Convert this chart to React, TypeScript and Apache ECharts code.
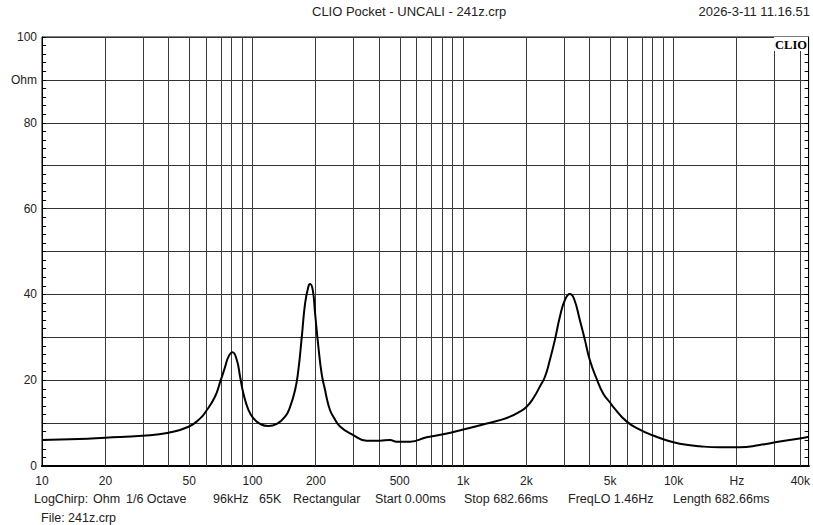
import React, { useEffect, useRef } from "react";
import * as echarts from "echarts";

// Impedance curve (frequency in Hz, impedance in Ohm)
const freqs = [10, 15, 20, 30, 40, 50, 56.4, 60, 66.4, 70.2, 74.1, 76.9, 80.3, 84.2, 87.3, 90.5, 95.6, 101, 108.7, 119, 130.4, 142.8, 150.8, 159.3, 165.1, 171.4, 177.7, 184.2, 187.7, 193.3, 198.2, 205.5, 213.3, 221.1, 225.2, 233.5, 242.1, 260.5, 301, 348.7, 403, 449.8, 484, 559.8, 671.8, 805, 1002, 1294, 1496, 1670, 1862, 2004, 2155, 2317, 2449, 2584, 2731, 2884, 3047, 3215, 3359, 3589, 3791, 4001, 4303, 4629, 4989, 5166, 5977, 6911, 7993, 9254, 10700, 13320, 16570, 20620, 25650, 31920, 39720, 43800];
const ohms = [6.06, 6.3, 6.6, 7.06, 7.77, 9.2, 11.1, 12.7, 16.2, 19.6, 23.1, 25.5, 26.5, 24.7, 20.8, 16.9, 13.1, 11.1, 9.8, 9.3, 9.8, 11.5, 13.8, 17.7, 22.4, 30.1, 37.9, 41.8, 42.4, 41, 35.6, 27.8, 21.3, 17.7, 15.8, 13, 11.5, 9.2, 7.2, 5.9, 5.9, 6.06, 5.67, 5.67, 6.7, 7.4, 8.5, 9.9, 10.7, 11.5, 12.7, 13.8, 15.8, 18.5, 20.8, 24.7, 29.4, 34.8, 38.7, 40.1, 39.1, 34, 29.4, 24.7, 20.4, 16.9, 14.8, 13.8, 10.4, 8.5, 7.1, 6.0, 5.2, 4.6, 4.35, 4.35, 4.9, 5.7, 6.4, 6.8];

const xTickFreqs = [10, 20, 50, 100, 200, 500, 1000, 2000, 5000, 10000, 20000, 40000];
const xTickLabels = ["10", "20", "50", "100", "200", "500", "1k", "2k", "5k", "10k", "Hz", "40k"];
const gridFreqs = [20, 30, 40, 50, 60, 70, 80, 90, 100, 200, 300, 400, 500, 600, 700, 800, 900, 1000, 2000, 3000, 4000, 5000, 6000, 7000, 8000, 9000, 10000, 20000, 30000, 40000];
const fMin = 10;
const fMax = 43800;

const titleText = "CLIO Pocket - UNCALI - 241z.crp";
const dateText = "2026-3-11 11.16.51";
const footerTokens = ["LogChirp:", "Ohm", "1/6 Octave", "96kHz", "65K", "Rectangular", "Start 0.00ms", "Stop 682.66ms", "FreqLO 1.46Hz", "Length 682.66ms"];
const footerX = [34, 93, 126, 213, 259, 293, 375, 464, 568, 673];
const fileText = "File: 241z.crp";

const FONT = "'Liberation Sans', Arial, sans-serif";

export default function App() {
  const ref = useRef<HTMLDivElement>(null);
  useEffect(() => {
    if (!ref.current) return;
    const chart = echarts.init(ref.current, undefined, { renderer: "svg" });
    const lx = freqs.map((f) => Math.log10(f));
    const data = lx.map((x, i) => [x, ohms[i]]);
    const tickLogs = xTickFreqs.map((f) => Math.log10(f));
    const yAxisCommon = {
      type: "value",
      min: 0,
      max: 100,
      interval: 10,
      axisLine: { show: true, lineStyle: { color: "#000", width: 1 } },
      axisTick: { show: true, inside: true, length: 4, lineStyle: { color: "#000" } },
      minorTick: { show: true, splitNumber: 5, length: 4, lineStyle: { color: "#000" } },
    };
    chart.setOption({
      animation: false,
      backgroundColor: "#fff",
      grid: { left: 42, right: 4, top: 37, bottom: 59, show: true, borderColor: "#000", borderWidth: 1, backgroundColor: "transparent" },
      xAxis: [
        {
          type: "value",
          min: Math.log10(fMin),
          max: Math.log10(fMax),
          axisLine: { show: true, onZero: false, lineStyle: { color: "#000", width: 2 } },
          axisTick: { show: false },
          splitLine: { show: false },
          axisLabel: {
            customValues: tickLogs,
            margin: 9,
            color: "#222",
            fontFamily: FONT,
            fontSize: 12,
            hideOverlap: false,
            showMinLabel: true,
            showMaxLabel: true,
            formatter: (v: number) => {
              let best = 0;
              let bd = Infinity;
              tickLogs.forEach((t, i) => {
                const d = Math.abs(t - v);
                if (d < bd) { bd = d; best = i; }
              });
              return bd < 0.01 ? xTickLabels[best] : "";
            },
          },
        },
        {
          type: "value",
          position: "top",
          min: Math.log10(fMin),
          max: Math.log10(fMax),
          axisLine: { show: true, lineStyle: { color: "#000", width: 2 } },
          axisTick: { show: false },
          axisLabel: { show: false },
          splitLine: { show: false },
        },
      ],
      yAxis: [
        {
          ...yAxisCommon,
          position: "left",
          splitLine: { show: true, lineStyle: { color: "#333", width: 1 } },
          axisLabel: {
            margin: 5,
            color: "#222",
            fontFamily: FONT,
            fontSize: 12,
            formatter: (v: number) => (v === 90 ? "Ohm" : v % 20 === 0 ? String(v) : ""),
          },
        },
        {
          ...yAxisCommon,
          position: "right",
          splitLine: { show: false },
          axisLabel: { show: false },
        },
      ],
      series: [
        {
          type: "line",
          data: [],
          silent: true,
          markLine: {
            silent: true,
            symbol: "none",
            label: { show: false },
            lineStyle: { color: "#3c3c3c", width: 1, type: "solid" },
            data: gridFreqs.map((f) => ({ xAxis: Math.log10(f) })),
          },
        },
        {
          type: "line",
          data,
          showSymbol: false,
          smooth: 0.5,
          lineStyle: { color: "#000", width: 2 },
          z: 5,
        },
      ],
      graphic: [
        { type: "text", left: 312, top: 5, style: { text: titleText, font: `13px ${FONT}`, fill: "#222" } },
        { type: "text", right: 3, top: 5, style: { text: dateText, font: `13px ${FONT}`, fill: "#222" } },
        {
          type: "text", right: 5, top: 37, z: 10,
          style: { text: "CLIO", font: `bold 12.5px 'Liberation Serif', 'Times New Roman', serif`, fill: "#000", backgroundColor: "#fff", padding: [1, 1, 0, 1] },
        },
        ...footerTokens.map((t, i) => ({
          type: "text", left: footerX[i], top: 492,
          style: { text: t, font: `12.5px ${FONT}`, fill: "#222" },
        })),
        { type: "text", left: 41, top: 511, style: { text: fileText, font: `12.5px ${FONT}`, fill: "#222" } },
      ],
    });
    return () => chart.dispose();
  }, []);
  return <div ref={ref} style={{ width: 813, height: 525, position: "fixed", left: 0, top: 0 }} />;
}
